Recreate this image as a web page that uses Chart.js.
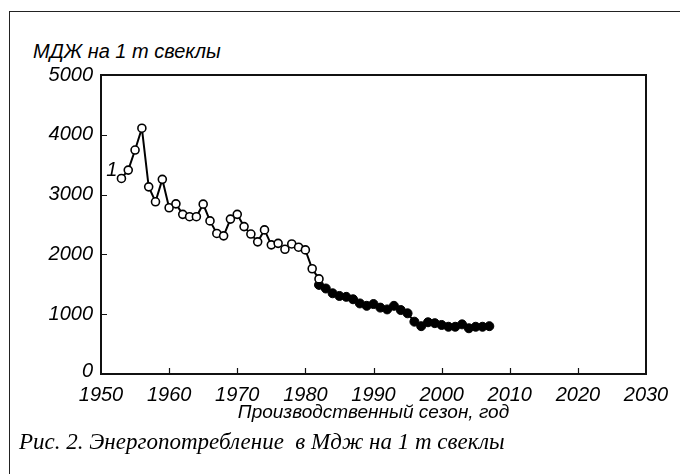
<!DOCTYPE html>
<html>
<head>
<meta charset="utf-8">
<script src="https://cdn.jsdelivr.net/npm/chart.js@4.4.0/dist/chart.umd.min.js"></script>
<style>
  body { margin: 0; background: #fff; }
  #wrap { position: relative; width: 680px; height: 474px; overflow: hidden; }
  #frame { position: absolute; left: 9px; top: 11px; width: 700px; height: 500px; border: 1.5px solid #222; box-sizing: border-box; }
  #ytitle { position: absolute; left: 33px; top: 40px; font: italic 20px "Liberation Sans", Arial, sans-serif; color: #000; }
  #caption { position: absolute; left: 19px; top: 429px; font: italic 23px "Liberation Serif", "Times New Roman", serif; color: #000; white-space: pre; }
  canvas { position: absolute; left: 0; top: 0; }
</style>
</head>
<body>
<div id="wrap">
  <div id="frame"></div>
  <div id="ytitle">МДЖ на 1 т свеклы</div>
  <canvas id="chart" width="680" height="474"></canvas>
  <div id="caption">Рис. 2. Энергопотребление  в Мдж на 1 т свеклы</div>
</div>
<script>
// старые данные (светлые кружки)
const yearsOpen = [1953, 1954, 1955, 1956, 1957, 1958, 1959, 1960, 1961, 1962, 1963, 1964, 1965,
  1966, 1967, 1968, 1969, 1970, 1971, 1972, 1973, 1974, 1975, 1976, 1977, 1978, 1979, 1980, 1981, 1982];
const valuesOpen = [3270, 3410, 3745, 4110, 3130, 2880, 3255, 2780, 2845, 2670, 2630, 2630, 2840,
  2560, 2350, 2310, 2590, 2670, 2465, 2340, 2210, 2410, 2160, 2185, 2085, 2175, 2120, 2075, 1760, 1590];

// новые данные (черные кружки)
const yearsFilled = [1982, 1983, 1984, 1985, 1986, 1987, 1988, 1989, 1990, 1991, 1992, 1993, 1994,
  1995, 1996, 1997, 1998, 1999, 2000, 2001, 2002, 2003, 2004, 2005, 2006, 2007];
const valuesFilled = [1490, 1430, 1350, 1305, 1290, 1250, 1180, 1140, 1170, 1110, 1080, 1140, 1070,
  1015, 875, 800, 865, 850, 820, 790, 790, 830, 765, 790, 790, 800];

const xTicks = [1950, 1960, 1970, 1980, 1990, 2000, 2010, 2020, 2030];
const yTicks = [0, 1000, 2000, 3000, 4000, 5000];

const italicFont = 'italic 20px "Liberation Sans", Arial, sans-serif';

function toPoints(xs, ys) {
  return xs.map((x, i) => ({ x: x, y: ys[i] }));
}

// рамка, внутренние засечки, подписи осей курсивом и метка "1"
const boxPlugin = {
  id: 'boxPlugin',
  afterDraw(chart) {
    const ctx = chart.ctx;
    const a = chart.chartArea;
    const xs = chart.scales.x, ys = chart.scales.y;
    ctx.save();
    ctx.strokeStyle = '#111';
    ctx.lineWidth = 2;
    ctx.strokeRect(a.left, a.top, a.right - a.left, a.bottom - a.top);
    ctx.lineWidth = 1.2;
    ctx.beginPath();
    yTicks.slice(1, -1).forEach(v => {
      const py = Math.round(ys.getPixelForValue(v)) + 0.5;
      ctx.moveTo(a.left, py);
      ctx.lineTo(a.left + 6, py);
    });
    xTicks.slice(1, -1).forEach(v => {
      const px = Math.round(xs.getPixelForValue(v)) + 0.5;
      ctx.moveTo(px, a.bottom);
      ctx.lineTo(px, a.bottom - 6);
    });
    ctx.stroke();

    ctx.fillStyle = '#000';
    ctx.font = italicFont;
    ctx.textBaseline = 'middle';
    ctx.textAlign = 'center';
    xTicks.forEach(v => ctx.fillText(String(v), xs.getPixelForValue(v), a.bottom + 21));
    ctx.textAlign = 'right';
    yTicks.forEach(v => ctx.fillText(String(v), a.left - 8, ys.getPixelForValue(v) - (v === 0 ? 3 : 0)));

    const p = chart.getDatasetMeta(0).data[0];
    ctx.fillText('1', p.x - 4, p.y - 8);
    ctx.restore();
  }
};

new Chart(document.getElementById('chart'), {
  type: 'line',
  data: {
    datasets: [{
      data: toPoints(yearsOpen, valuesOpen),
      borderColor: '#000',
      borderWidth: 2,
      pointRadius: 4,
      pointBorderWidth: 1.6,
      pointBackgroundColor: '#fff',
      pointBorderColor: '#000'
    }, {
      data: toPoints(yearsFilled, valuesFilled),
      borderColor: '#000',
      borderWidth: 2,
      pointRadius: 4.5,
      pointBorderWidth: 1,
      pointBackgroundColor: '#000',
      pointBorderColor: '#000'
    }]
  },
  options: {
    responsive: false,
    animation: false,
    layout: { padding: { left: 0, top: 75, right: 34, bottom: 49 } },
    plugins: { legend: { display: false }, tooltip: { enabled: false } },
    scales: {
      x: {
        type: 'linear',
        min: 1950,
        max: 2030,
        afterBuildTicks: scale => { scale.ticks = xTicks.map(v => ({ value: v })); },
        afterFit: scale => { scale.height = 51; },
        grid: { display: false, drawTicks: false },
        border: { display: true, color: '#111', width: 2 },
        ticks: { display: false },
        title: {
          display: true,
          text: 'Производственный сезон, год',
          color: '#000',
          font: { family: '"Liberation Sans", Arial, sans-serif', style: 'italic', size: 19 },
          padding: { top: 0, bottom: 1 }
        }
      },
      y: {
        min: 0,
        max: 5000,
        afterBuildTicks: scale => { scale.ticks = yTicks.map(v => ({ value: v })); },
        afterFit: scale => { scale.width = 101; },
        grid: { display: false, drawTicks: false },
        border: { display: true, color: '#111', width: 2 },
        ticks: { display: false }
      }
    }
  },
  plugins: [boxPlugin]
});
</script>
</body>
</html>
